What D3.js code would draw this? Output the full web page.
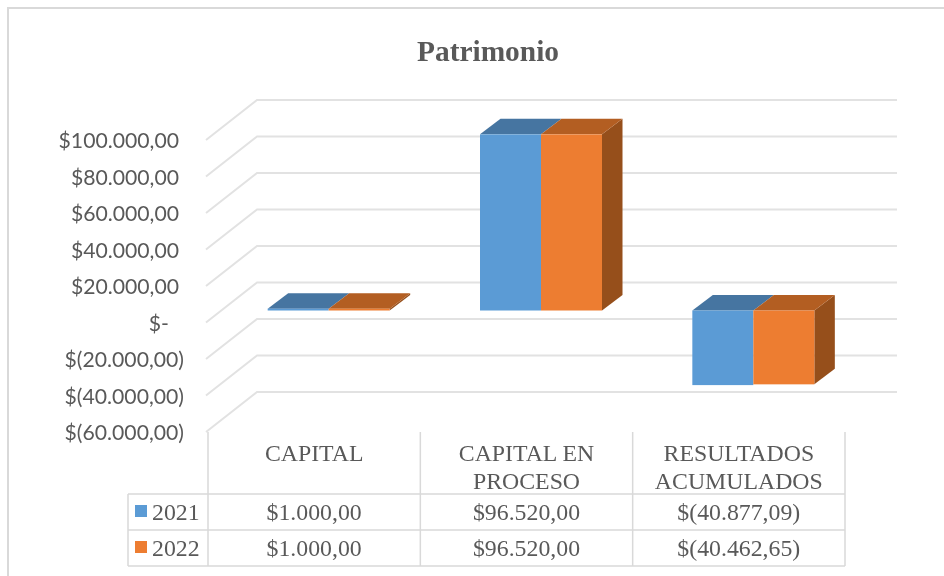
<!DOCTYPE html>
<html><head><meta charset="utf-8">
<script src="https://cdnjs.cloudflare.com/ajax/libs/d3/7.8.5/d3.min.js"></script>
<style>html,body{margin:0;padding:0;background:#fff}svg{display:block;filter:blur(0.35px)}</style>
</head><body><svg id="c" width="944" height="576"></svg>
<script>
const categories = [["CAPITAL"],["CAPITAL EN","PROCESO"],["RESULTADOS","ACUMULADOS"]];
const seriesNames = ["2021","2022"];
const values2021 = [1000, 96520, -40877.09];
const values2022 = [1000, 96520, -40462.65];
const labels2021 = ["$1.000,00","$96.520,00","$(40.877,09)"];
const labels2022 = ["$1.000,00","$96.520,00","$(40.462,65)"];
const tickValues = [100000,80000,60000,40000,20000,0,-20000,-40000,-60000];
const tickLabels = ["$100.000,00","$80.000,00","$60.000,00","$40.000,00","$20.000,00","$-","$(20.000,00)","$(40.000,00)","$(60.000,00)"];
const seriesColors = ["#5B9BD5","#ED7D31"];
const topColors = ["#4675A1","#B35E22"];
const sideColor = "#964F1B";

const svg = d3.select("#c");
const GRID="#d9d9d9", TXT="#595959", SERIF="'Liberation Serif',serif", SANS="Lato,sans-serif";

// frame
svg.append("path").attr("d","M8,576V8H944").attr("fill","none").attr("stroke",GRID).attr("stroke-width",2);

svg.append("text").attr("x",488).attr("y",61).attr("text-anchor","middle")
  .attr("font-family",SERIF).attr("font-weight","bold").attr("font-size",29.4).attr("fill",TXT).text("Patrimonio");

const y = d3.scaleLinear().domain([-60000,100000]).range([432,140]);   // front plane
const x = d3.scaleBand().domain(d3.range(categories.length)).range([208,845]);
const depth = {x:51, y:-40};
const backX1 = 897;

// gridlines
const g = svg.append("g");
tickValues.forEach(t=>{
  const yf=y(t);
  g.append("path").attr("d",d3.line()([[206,yf],[206+depth.x,yf+depth.y],[backX1,yf+depth.y]]))
   .attr("fill","none").attr("stroke","#e2e2e2").attr("stroke-width",2);
});
// axis labels
const yAxis = svg.append("g").attr("font-family",SANS).attr("font-size",21.2).attr("fill",TXT);
tickValues.forEach((t,i)=>{
  yAxis.append("text").attr("x",t===0?169:(t<0?184:179)).attr("y",y(t)+8).attr("text-anchor","end").text(tickLabels[i]);
});

// 3D bars
const barW = 61, barPad = (x.bandwidth()-2*barW)/2;
const z0 = {x:14.5,y:-12}, dz = {x:20.5,y:-15.5};  // depth position and thickness of the bar box
[values2021,values2022].forEach((vals,s)=>{
  vals.forEach((v,i)=>{
    const X0 = x(i)+barPad+s*barW+z0.x, X1 = X0+barW;
    const yz = y(0)+z0.y, yv = y(v)+z0.y;
    const top = Math.min(yz,yv), bot = Math.max(yz,yv);
    const b = svg.append("g");
    if(s===1){
      b.append("path").attr("fill",sideColor)
       .attr("d",d3.line()([[X1,top],[X1+dz.x,top+dz.y],[X1+dz.x,bot+dz.y],[X1,bot]]));
    }
    b.append("path").attr("fill",topColors[s])
     .attr("d",d3.line()([[X0,top],[X0+dz.x,top+dz.y],[X1+dz.x,top+dz.y],[X1,top]]));
    b.append("rect").attr("x",X0).attr("y",top).attr("width",barW).attr("height",bot-top).attr("fill",seriesColors[s]);
  });
});

// data table
const tTop=432, r0=494, r1=530, r2=566, legX=128;
const edges = x.domain().map(i=>x(i)).concat([x.range()[1]]);
const tl = svg.append("g").attr("stroke",GRID).attr("stroke-width",1.5).attr("fill","none");
edges.forEach(e=>tl.append("line").attr("x1",e).attr("x2",e).attr("y1",tTop).attr("y2",r2));
[r0,r1,r2].forEach(r=>tl.append("line").attr("x1",legX).attr("x2",x.range()[1]).attr("y1",r).attr("y2",r));
tl.append("line").attr("x1",legX).attr("x2",legX).attr("y1",r0).attr("y2",r2);

const tt = svg.append("g").attr("font-family",SERIF).attr("font-size",23.8).attr("fill",TXT);
categories.forEach((c,i)=>{
  const cx=x(i)+x.bandwidth()/2;
  c.forEach((line,j)=>{
    tt.append("text").attr("x",cx).attr("y",461+j*28).attr("text-anchor","middle").text(line);
  });
  tt.append("text").attr("x",cx).attr("y",520).attr("text-anchor","middle").text(labels2021[i]);
  tt.append("text").attr("x",cx).attr("y",556).attr("text-anchor","middle").text(labels2022[i]);
});
seriesNames.forEach((n,s)=>{
  const yy=[r0,r1][s];
  svg.append("rect").attr("x",135).attr("y",yy+11).attr("width",12).attr("height",12).attr("fill",seriesColors[s]);
  tt.append("text").attr("x",152).attr("y",yy+26).text(n);
});
</script></body></html>
